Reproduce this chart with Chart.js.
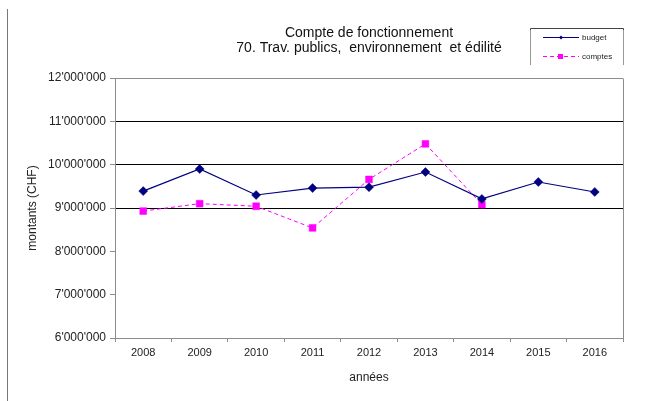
<!DOCTYPE html>
<html>
<head>
<meta charset="utf-8">
<script src="https://cdn.jsdelivr.net/npm/chart.js@4.4.1/dist/chart.umd.min.js"></script>
<style>
  html, body { margin: 0; padding: 0; background: #fff; }
  #wrap { width: 647px; height: 401px; position: relative; }
</style>
</head>
<body>
<div id="wrap"><canvas id="c" width="647" height="401"></canvas></div>
<script>
const years = ['2008', '2009', '2010', '2011', '2012', '2013', '2014', '2015', '2016'];
const budget = [9390000, 9900000, 9300000, 9460000, 9480000, 9830000, 9210000, 9600000, 9370000];
const comptes = [8930000, 9100000, 9040000, 8540000, 9660000, 10480000, 9080000, null, null];
const titleLines = ['Compte de fonctionnement', '70. Trav. publics,  environnement  et édilité'];
const seriesNames = ['budget', 'comptes'];
const yAxisTitle = 'montants (CHF)';
const xAxisTitle = 'années';
const yMin = 6000000, yMax = 12000000, yStep = 1000000;
const gridValues = [9000000, 10000000, 11000000];

const FONT = '"Liberation Sans", Arial, sans-serif';
const NAVY = '#000080';
const MAGENTA = '#FF00FF';

function fmt(v) {
  return String(Math.round(v)).replace(/\B(?=(\d{3})+(?!\d))/g, "'");
}

const decor = {
  id: 'decor',
  afterDraw(chart) {
    const ctx = chart.ctx;
    const a = chart.chartArea;
    ctx.save();
    // page left line
    ctx.strokeStyle = '#777';
    ctx.lineWidth = 1;
    ctx.beginPath();
    ctx.moveTo(7.5, 9);
    ctx.lineTo(7.5, 401);
    ctx.stroke();
    // plot border right
    ctx.strokeStyle = '#8c8c8c';
    ctx.beginPath();
    ctx.moveTo(Math.round(a.right) + 0.5, Math.round(a.top) + 0.5);
    ctx.lineTo(Math.round(a.right) + 0.5, Math.round(a.bottom) + 4);
    ctx.stroke();
    // title
    ctx.fillStyle = '#111';
    ctx.font = '14px ' + FONT;
    ctx.textAlign = 'center';
    ctx.textBaseline = 'middle';
    const cx = (a.left + a.right) / 2;
    ctx.fillText(titleLines[0], cx, 33);
    ctx.fillText(titleLines[1], cx, 48);
    // legend box
    ctx.strokeStyle = '#444';
    ctx.beginPath();
    ctx.moveTo(530.5, 65);
    ctx.lineTo(530.5, 28.5);
    ctx.lineTo(623.5, 28.5);
    ctx.lineTo(623.5, 65);
    ctx.stroke();
    ctx.strokeStyle = '#999';
    ctx.beginPath();
    ctx.moveTo(530.5, 30);
    ctx.lineTo(530.5, 65);
    ctx.moveTo(623.5, 30);
    ctx.lineTo(623.5, 65);
    ctx.stroke();
    // legend entries
    ctx.font = '8px ' + FONT;
    ctx.textAlign = 'left';
    ctx.fillStyle = '#222';
    // budget
    ctx.strokeStyle = NAVY;
    ctx.lineWidth = 1.2;
    ctx.beginPath();
    ctx.moveTo(543, 37.5);
    ctx.lineTo(579, 37.5);
    ctx.stroke();
    ctx.fillStyle = NAVY;
    ctx.beginPath();
    ctx.moveTo(561, 35.5); ctx.lineTo(563, 37.5); ctx.lineTo(561, 39.5); ctx.lineTo(559, 37.5);
    ctx.closePath(); ctx.fill();
    ctx.fillStyle = '#222';
    ctx.fillText(seriesNames[0], 582, 37.5);
    // comptes
    ctx.strokeStyle = MAGENTA;
    ctx.lineWidth = 1;
    ctx.setLineDash([4, 3]);
    ctx.beginPath();
    ctx.moveTo(543, 56.5);
    ctx.lineTo(579, 56.5);
    ctx.stroke();
    ctx.setLineDash([]);
    ctx.fillStyle = MAGENTA;
    ctx.fillRect(558, 54, 5, 5);
    ctx.fillStyle = '#222';
    ctx.fillText(seriesNames[1], 582, 56.5);
    ctx.restore();
  }
};

new Chart(document.getElementById('c'), {
  type: 'line',
  data: {
    labels: years,
    datasets: [
      {
        label: seriesNames[0],
        data: budget,
        borderColor: NAVY,
        backgroundColor: NAVY,
        borderWidth: 1.2,
        pointStyle: 'rectRot',
        pointRadius: 4.5,
        pointBorderWidth: 0.5,
        tension: 0
      },
      {
        label: seriesNames[1],
        data: comptes,
        borderColor: MAGENTA,
        backgroundColor: MAGENTA,
        borderWidth: 1,
        borderDash: [4, 3],
        pointStyle: 'rect',
        pointRadius: 4.8,
        pointBorderWidth: 0.5,
        spanGaps: false,
        tension: 0
      }
    ]
  },
  options: {
    responsive: false,
    animation: false,
    layout: { padding: { top: 78, right: 24, left: 0, bottom: 0 } },
    plugins: {
      legend: { display: false },
      title: { display: false },
      tooltip: { enabled: false }
    },
    scales: {
      x: {
        type: 'category',
        offset: true,
        afterFit(scale) { scale.height = 63; },
        grid: {
          offset: true,
          drawOnChartArea: false,
          drawTicks: true,
          tickLength: 4,
          tickColor: '#8c8c8c'
        },
        border: { color: '#8c8c8c', width: 1 },
        ticks: {
          color: '#222',
          font: { family: FONT, size: 11 },
          padding: 4,
          maxRotation: 0
        },
        title: {
          display: true,
          text: xAxisTitle,
          color: '#222',
          font: { family: FONT, size: 12 },
          padding: { top: 0, bottom: 16 }
        }
      },
      y: {
        min: yMin,
        max: yMax,
        afterFit(scale) { scale.width = 115; },
        grid: {
          color(ctx) {
            const v = ctx.tick && ctx.tick.value;
            if (gridValues.includes(v)) return '#000';
            if (v === yMax) return '#8c8c8c';
            return 'rgba(0,0,0,0)';
          },
          lineWidth: 1,
          tickLength: 5,
          tickColor: '#8c8c8c'
        },
        border: { color: '#8c8c8c', width: 1 },
        ticks: {
          stepSize: yStep,
          color: '#222',
          font: { family: FONT, size: 12 },
          padding: 4,
          callback: (v) => fmt(v)
        },
        title: {
          display: true,
          text: yAxisTitle,
          color: '#222',
          font: { family: FONT, size: 12 },
          padding: { top: 25, bottom: 0 }
        }
      }
    }
  },
  plugins: [decor]
});
</script>
</body>
</html>
